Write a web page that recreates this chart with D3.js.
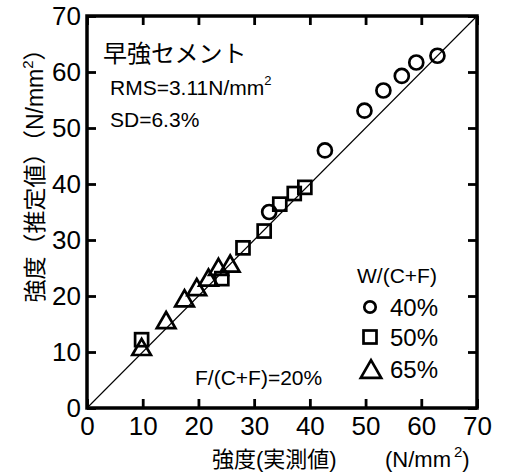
<!DOCTYPE html>
<html>
<head>
<meta charset="utf-8">
<script src="https://cdn.jsdelivr.net/npm/d3@7"></script>
<style>
  body { margin: 0; background: #fff; }
  text { font-family: "Liberation Sans", Arial, "Noto Sans CJK JP", sans-serif; fill: #000; }
</style>
</head>
<body>
<div id="chart"></div>
<script>
// W/(C+F) = 40%
const circleX = [32.7, 42.7, 49.8, 53.2, 56.5, 59.1, 62.9];
const circleY = [35.0, 46.0, 53.1, 56.7, 59.3, 61.7, 62.9];
// 50%
const squareX = [9.8, 24.2, 28.0, 31.8, 34.6, 37.2, 39.1];
const squareY = [12.2, 23.1, 28.6, 31.6, 36.4, 38.3, 39.4];
// 65%
const triX = [9.8, 14.2, 17.5, 19.7, 21.8, 23.6, 25.7];
const triY = [10.9, 15.7, 19.6, 21.6, 23.3, 25.2, 25.8];
const ticks = [0, 10, 20, 30, 40, 50, 60, 70];
const legendLabels = ["40%", "50%", "65%"];

const W = 507, H = 473;
const margin = { top: 16, right: 30, bottom: 65, left: 87 };
const width = W - margin.left - margin.right;
const height = H - margin.top - margin.bottom;

const svg = d3.select("#chart").append("svg")
  .attr("width", W).attr("height", H)
  .append("g")
  .attr("transform", `translate(${margin.left},${margin.top})`);

const x = d3.scaleLinear().domain([0, 70]).range([0, width]);
const y = d3.scaleLinear().domain([0, 70]).range([height, 0]);

// 1:1 line
svg.append("line")
  .attr("x1", x(0)).attr("y1", y(0)).attr("x2", x(70)).attr("y2", y(70))
  .attr("stroke", "#000").attr("stroke-width", 1.1);

// axes, ticks inward on all sides
const tickLen = 9;
const ax = [
  { g: d3.axisBottom(x).tickValues(ticks).tickSize(-tickLen).tickPadding(9), t: `translate(0,${height})`, lab: true },
  { g: d3.axisLeft(y).tickValues(ticks).tickSize(-tickLen).tickPadding(6), t: "translate(0,0)", lab: true },
  { g: d3.axisTop(x).tickValues(ticks).tickSize(-tickLen), t: "translate(0,0)", lab: false },
  { g: d3.axisRight(y).tickValues(ticks).tickSize(-tickLen), t: `translate(${width},0)`, lab: false }
];
ax.forEach(a => {
  const g = svg.append("g").attr("transform", a.t).call(a.g);
  g.select(".domain").remove();
  g.selectAll(".tick line").attr("stroke", "#000").attr("stroke-width", 2.8);
  if (a.lab) g.selectAll(".tick text").style("font-size", "26px").attr("fill", "#000");
  else g.selectAll(".tick text").remove();
});

svg.append("rect")
  .attr("width", width).attr("height", height)
  .attr("fill", "none").attr("stroke", "#000").attr("stroke-width", 3.5);

// markers
const sw = 2.7;
svg.selectAll(".c").data(d3.zip(circleX, circleY)).join("circle")
  .attr("cx", d => x(d[0])).attr("cy", d => y(d[1])).attr("r", 7)
  .attr("fill", "none").attr("stroke", "#000").attr("stroke-width", sw);

const sq = 13;
svg.selectAll(".s").data(d3.zip(squareX, squareY)).join("rect")
  .attr("x", d => x(d[0]) - sq / 2).attr("y", d => y(d[1]) - sq / 2)
  .attr("width", sq).attr("height", sq)
  .attr("fill", "none").attr("stroke", "#000").attr("stroke-width", sw);

// triangles centred on their bounding box
const triSize = 150;
const triOff = Math.sqrt(triSize / (Math.sqrt(3) * 3)) / 2;
svg.selectAll(".t").data(d3.zip(triX, triY)).join("path")
  .attr("d", d3.symbol().type(d3.symbolTriangle).size(triSize))
  .attr("transform", d => `translate(${x(d[0])},${y(d[1]) + triOff})`)
  .attr("fill", "none").attr("stroke", "#000").attr("stroke-width", sw);

// annotations
svg.append("text").attr("x", 16).attr("y", 46).style("font-size", "24px").text("早強セメント");
const rms = svg.append("text").attr("x", 23).attr("y", 79).style("font-size", "21px");
rms.append("tspan").text("RMS=3.11N/mm");
rms.append("tspan").attr("dx", 0).attr("dy", -10).style("font-size", "13px").text("2");
svg.append("text").attr("x", 23).attr("y", 111).style("font-size", "21px").text("SD=6.3%");
svg.append("text").attr("x", 108).attr("y", 369).style("font-size", "21px").text("F/(C+F)=20%");

// legend
svg.append("text").attr("x", 270).attr("y", 267).style("font-size", "21px").text("W/(C+F)");
const lg = svg.append("g");
const ly = [291, 321, 353];
lg.append("circle").attr("cx", 283).attr("cy", ly[0]).attr("r", 5.7)
  .attr("fill", "none").attr("stroke", "#000").attr("stroke-width", sw);
lg.append("rect").attr("x", 283 - 6.5).attr("y", ly[1] - 6.5).attr("width", 13).attr("height", 13)
  .attr("fill", "none").attr("stroke", "#000").attr("stroke-width", sw);
const lgTri = 180;
lg.append("path").attr("d", d3.symbol().type(d3.symbolTriangle).size(lgTri))
  .attr("transform", `translate(284,${ly[2] + Math.sqrt(lgTri / (Math.sqrt(3) * 3)) / 2})`)
  .attr("fill", "none").attr("stroke", "#000").attr("stroke-width", sw);
legendLabels.forEach((l, i) => {
  lg.append("text").attr("x", 303).attr("y", ly[i] + 8.5).style("font-size", "24px").text(l);
});

// axis titles
const xt = svg.append("text").attr("x", 125).attr("y", height + 59).style("font-size", "22px");
xt.append("tspan").text("強度(実測値)");
xt.append("tspan").attr("x", 298).text("(N/mm");
xt.append("tspan").attr("dx", 3).attr("dy", -10).style("font-size", "15px").text("2");
xt.append("tspan").attr("dy", 10).text(")");

const yt = svg.append("text")
  .attr("transform", `translate(${-44},${154}) rotate(-90)`)
  .attr("text-anchor", "middle").style("font-size", "23px");
yt.append("tspan").text("強度（推定値）（N/mm");
yt.append("tspan").attr("dy", -10).style("font-size", "15px").text("2");
yt.append("tspan").attr("dy", 10).text("）");
</script>
</body>
</html>
